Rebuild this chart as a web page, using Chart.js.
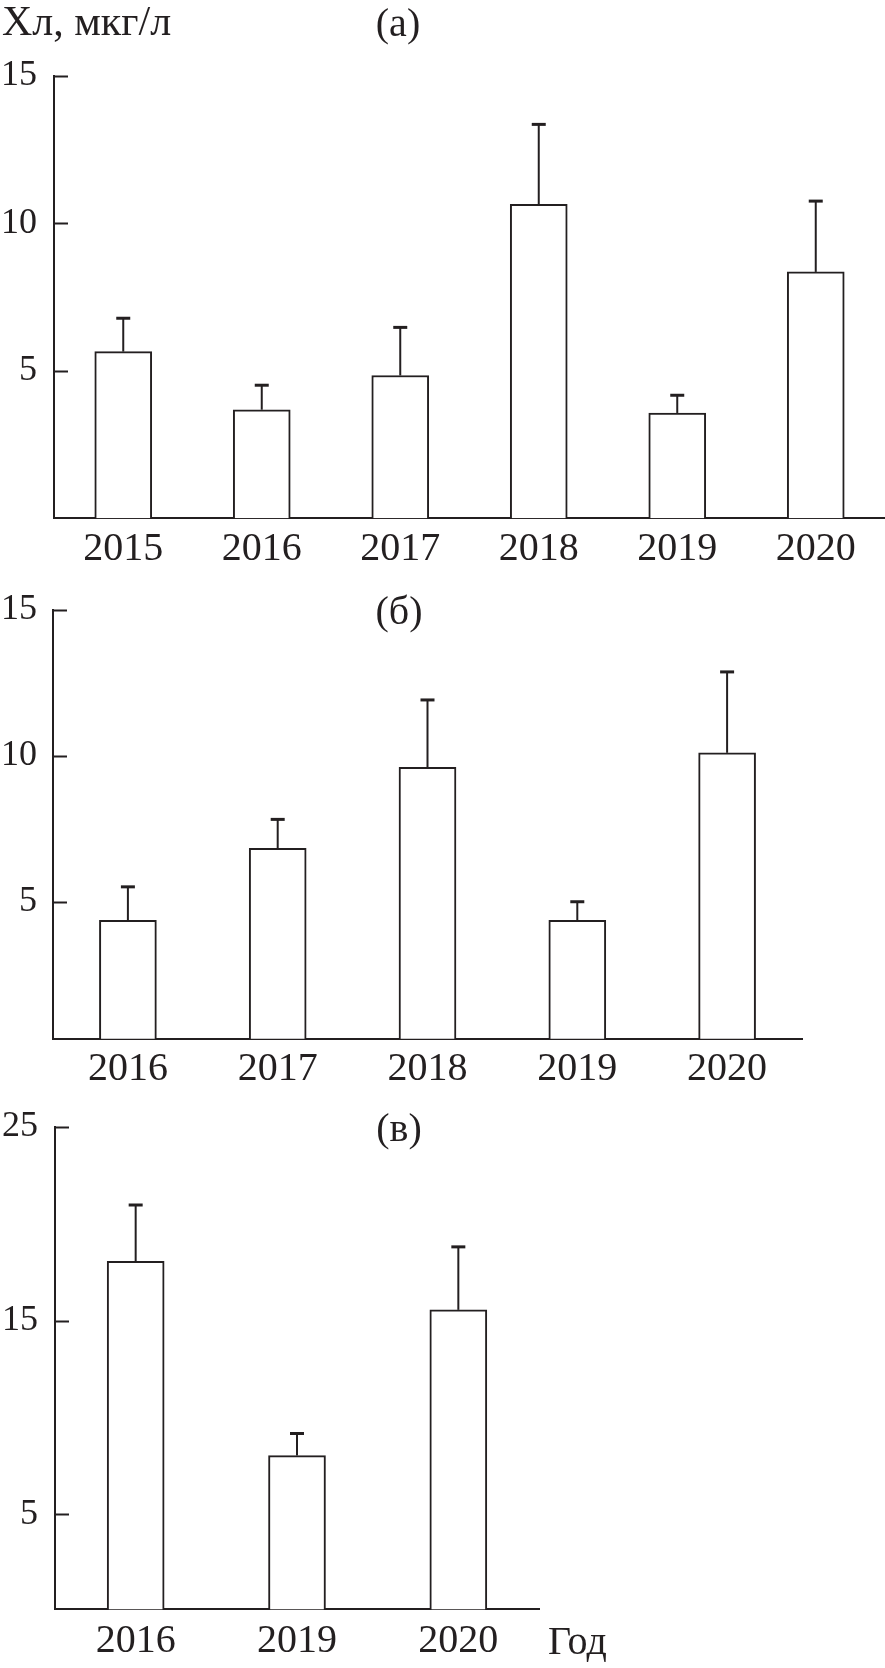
<!DOCTYPE html>
<html lang="ru">
<head>
<meta charset="utf-8">
<title>Хл, мкг/л</title>
<script src="https://cdn.jsdelivr.net/npm/chart.js@4.4.1/dist/chart.umd.min.js"></script>
<style>
  html, body { margin: 0; padding: 0; background: #fff; }
  #page { position: relative; width: 885px; height: 1668px; overflow: hidden; }
  canvas { position: absolute; left: 0; }
</style>
</head>
<body>
<div id="page">
  <canvas id="chartA" width="885" height="570" style="top:0px"></canvas>
  <canvas id="chartB" width="885" height="530" style="top:565px"></canvas>
  <canvas id="chartC" width="885" height="593" style="top:1075px"></canvas>
</div>
<script>
// (а)
const yearsA = ['2015', '2016', '2017', '2018', '2019', '2020'];
const chlA = [5.65, 3.68, 4.84, 10.64, 3.57, 8.35];
const errA = [1.13, 0.83, 1.63, 2.71, 0.60, 2.40];
const ticksA = [5, 10, 15];

// (б)
const yearsB = ['2016', '2017', '2018', '2019', '2020'];
const chlB = [4.37, 6.84, 9.61, 4.37, 10.11];
const errB = [1.15, 0.99, 2.31, 0.64, 2.77];
const ticksB = [5, 10, 15];

// (в)
const yearsC = ['2016', '2019', '2020'];
const chlC = [18.06, 8.03, 15.55];
const errC = [2.90, 1.14, 3.25];
const ticksC = [5, 15, 25];

const ink = '#231f20';
const serif = '"Liberation Serif", "Times New Roman", serif';

Chart.defaults.font.family = serif;
Chart.defaults.color = ink;
Chart.defaults.animation = false;

// планки погрешностей над столбиками
const errorBars = {
    id: 'errorBars',
    afterDatasetsDraw(chart, args, opts) {
        const ctx = chart.ctx;
        const y = chart.scales.y;
        const values = chart.data.datasets[0].data;
        ctx.save();
        ctx.strokeStyle = ink;
        chart.getDatasetMeta(0).data.forEach((bar, i) => {
            const top = y.getPixelForValue(values[i] + opts.err[i]);
            ctx.lineWidth = 2;
            ctx.beginPath();
            ctx.moveTo(bar.x, bar.y);
            ctx.lineTo(bar.x, top);
            ctx.stroke();
            ctx.lineWidth = 3;
            ctx.beginPath();
            ctx.moveTo(bar.x - 7, top);
            ctx.lineTo(bar.x + 7, top);
            ctx.stroke();
        });
        ctx.restore();
    }
};

// засечки внутрь графика
const innerTicks = {
    id: 'innerTicks',
    afterDraw(chart) {
        const ctx = chart.ctx;
        const y = chart.scales.y;
        const left = chart.chartArea.left;
        ctx.save();
        ctx.strokeStyle = ink;
        ctx.lineWidth = 2;
        y.ticks.forEach(t => {
            const py = Math.round(y.getPixelForValue(t.value)) + 0.5;
            ctx.beginPath();
            ctx.moveTo(left, py);
            ctx.lineTo(left + 14, py);
            ctx.stroke();
        });
        ctx.restore();
    }
};

// подписи панелей
const panelText = {
    id: 'panelText',
    afterDraw(chart, args, opts) {
        const ctx = chart.ctx;
        ctx.save();
        ctx.fillStyle = ink;
        ctx.textBaseline = 'alphabetic';
        opts.items.forEach(it => {
            ctx.font = it.size + 'px ' + serif;
            ctx.textAlign = it.align;
            ctx.fillText(it.text, it.x, it.y);
        });
        ctx.restore();
    }
};

function makeChart(id, labels, values, errors, tickValues, cfg) {
    return new Chart(document.getElementById(id), {
        type: 'bar',
        data: {
            labels: labels,
            datasets: [{
                data: values,
                backgroundColor: '#ffffff',
                borderColor: ink,
                borderWidth: 2,
                barThickness: 57
            }]
        },
        options: {
            responsive: false,
            layout: { padding: { top: cfg.top, right: cfg.right, bottom: 0, left: 0 } },
            plugins: {
                legend: { display: false },
                tooltip: { enabled: false },
                errorBars: { err: errors },
                panelText: { items: cfg.texts }
            },
            scales: {
                x: {
                    grid: { display: false, drawTicks: false },
                    border: { color: ink, width: 2 },
                    ticks: { font: { size: 40 }, padding: cfg.xPad, color: ink },
                    afterFit: s => { s.height = cfg.xHeight; }
                },
                y: {
                    min: cfg.min,
                    max: cfg.max,
                    grid: { display: false, drawTicks: false },
                    border: { color: ink, width: 2 },
                    ticks: { font: { size: 36 }, padding: cfg.yPad, color: ink },
                    afterBuildTicks: s => { s.ticks = tickValues.map(v => ({ value: v })); },
                    afterFit: s => { s.width = cfg.left; }
                }
            }
        },
        plugins: [errorBars, innerTicks, panelText]
    });
}

makeChart('chartA', yearsA, chlA, errA, ticksA, {
    top: 75.7, right: 0, left: 54, min: 0, max: 15,
    xHeight: 51.7, xPad: 7, yPad: 17,
    texts: [
        { text: 'Хл, мкг/л', x: 2, y: 35, size: 42, align: 'left' },
        { text: '(а)', x: 398, y: 36, size: 40, align: 'center' }
    ]
});

makeChart('chartB', yearsB, chlB, errB, ticksB, {
    top: 45, right: 83, left: 53, min: 0.32, max: 15,
    xHeight: 56.3, xPad: 7, yPad: 16,
    texts: [
        { text: '(б)', x: 399, y: 59, size: 40, align: 'center' }
    ]
});

makeChart('chartC', yearsC, chlC, errC, ticksC, {
    top: 51.7, right: 346, left: 55, min: 0.1, max: 25,
    xHeight: 58.7, xPad: 8, yPad: 17,
    texts: [
        { text: '(в)', x: 399, y: 66, size: 40, align: 'center' },
        { text: 'Год', x: 548, y: 579, size: 40, align: 'left' }
    ]
});
</script>
</body>
</html>
